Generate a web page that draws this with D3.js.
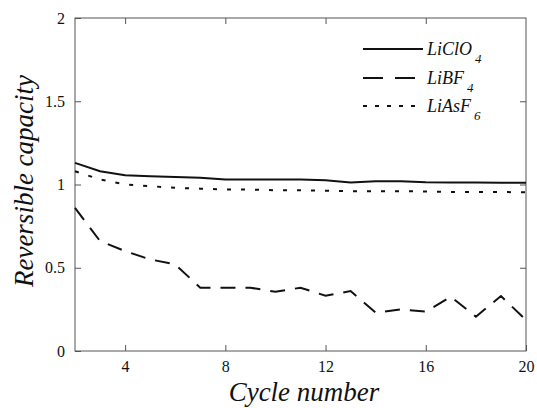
<!DOCTYPE html>
<html><head><meta charset="utf-8">
<script src="https://cdn.jsdelivr.net/npm/d3@7"></script>
<style>
body{margin:0;background:#fff;}
svg{display:block;}
svg text{font-family:"Liberation Serif","Times New Roman","DejaVu Serif","Noto Serif",serif !important;}
</style></head>
<body>
<svg id="chart" width="537" height="408"></svg>
<script>
const cycles = [2,3,4,5,6,7,8,9,10,11,12,13,14,15,16,17,18,19,20];
const liClO4 = [1.13,1.08,1.055,1.05,1.045,1.04,1.03,1.03,1.03,1.03,1.025,1.012,1.02,1.02,1.013,1.012,1.012,1.01,1.01];
const liBF4  = [0.86,0.66,0.60,0.55,0.52,0.38,0.38,0.38,0.356,0.38,0.332,0.36,0.23,0.25,0.236,0.326,0.206,0.33,0.186];
const liAsF6 = [1.08,1.03,1.0,0.99,0.98,0.975,0.97,0.97,0.965,0.965,0.963,0.96,0.96,0.96,0.958,0.955,0.955,0.955,0.953];
const xTicks = [4,8,12,16,20];
const yTicks = [0,0.5,1,1.5,2];
const yTickLabels = ["0","0.5","1","1.5","2"];
const seriesNames = ["LiClO", "LiBF", "LiAsF"];
const seriesSubs = ["4","4","6"];

const svg = d3.select("#chart");
const L = 75, R = 526, T = 18, B = 351;
const x = d3.scaleLinear().domain([2,20]).range([L,R]);
const y = d3.scaleLinear().domain([0,2]).range([B,T]);
const axisColor = "#555";

svg.append("rect").attr("x",L).attr("y",T).attr("width",R-L).attr("height",B-T)
  .attr("fill","none").attr("stroke",axisColor).attr("stroke-width",1);

function styleAxis(g, showText){
  g.attr("font-family",null);
  g.select(".domain").remove();
  g.selectAll(".tick line").attr("stroke",axisColor);
  g.selectAll(".tick text").attr("fill","#111").style("font-size","16px");
  if(!showText) g.selectAll(".tick text").remove();
}
svg.append("g").attr("transform",`translate(0,${B})`)
  .call(d3.axisBottom(x).tickValues(xTicks).tickSize(-6).tickPadding(10).tickFormat(d3.format("d")))
  .call(g=>styleAxis(g,true));
svg.append("g").attr("transform",`translate(0,${T})`)
  .call(d3.axisTop(x).tickValues(xTicks.filter(d=>d<20)).tickSize(-6))
  .call(g=>styleAxis(g,false));
svg.append("g").attr("transform",`translate(${L},0)`)
  .call(d3.axisLeft(y).tickValues(yTicks).tickSize(-6).tickPadding(10).tickFormat((d,i)=>yTickLabels[i]))
  .call(g=>styleAxis(g,true));
svg.append("g").attr("transform",`translate(${R},0)`)
  .call(d3.axisRight(y).tickValues(yTicks.filter(d=>d>0&&d<2)).tickSize(-6))
  .call(g=>styleAxis(g,false));

const line = d3.line().x((d,i)=>x(cycles[i])).y(d=>y(d));
const styles = [
  {data:liClO4, dash:null},
  {data:liBF4, dash:"15,10"},
  {data:liAsF6, dash:"4,10"}
];
styles.forEach(s=>{
  svg.append("path").datum(s.data).attr("d",line)
    .attr("fill","none").attr("stroke","#111").attr("stroke-width",2)
    .attr("stroke-dasharray",s.dash);
});

const legY = [49,78,106];
const legDash = [null,"20,12","4,8"];
legY.forEach((ly,i)=>{
  svg.append("line").attr("x1",363).attr("x2",423).attr("y1",ly).attr("y2",ly)
    .attr("stroke","#111").attr("stroke-width",2).attr("stroke-dasharray",legDash[i]);
  const t = svg.append("text").attr("x",427).attr("y",ly+6)
    .style("font-size","18px").style("font-style","italic").attr("fill","#111");
  t.append("tspan").text(seriesNames[i]);
  t.append("tspan").attr("dy",8).attr("dx",3).style("font-size","13px").text(seriesSubs[i]);
});

svg.append("text").attr("x",304).attr("y",401).attr("text-anchor","middle")
  .style("font-size","27px").style("font-style","italic").attr("fill","#111").text("Cycle number");
svg.append("text").attr("transform",`translate(33,181) rotate(-90)`).attr("text-anchor","middle")
  .style("font-size","27px").style("font-style","italic").attr("fill","#111").text("Reversible capacity");
</script>
</body></html>
